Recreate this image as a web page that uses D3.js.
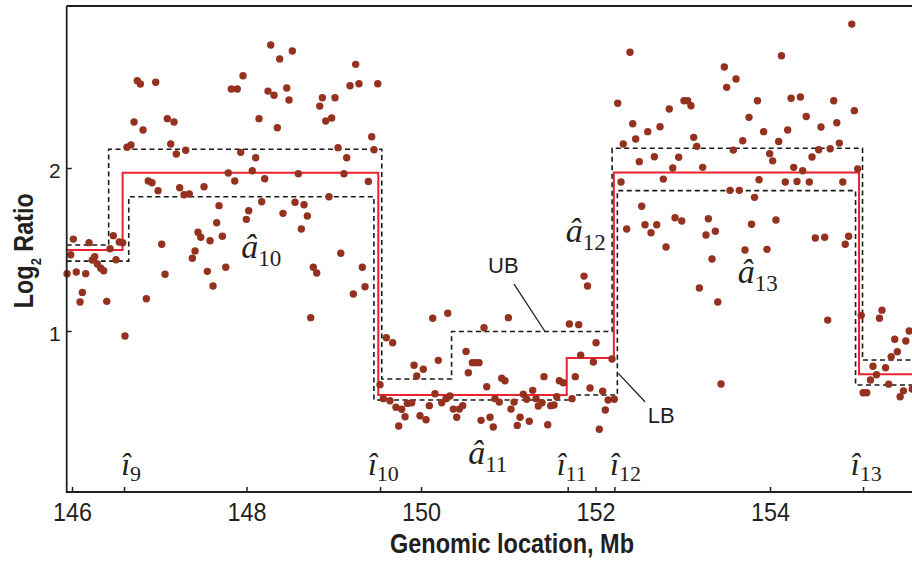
<!DOCTYPE html>
<html><head><meta charset="utf-8">
<script src="https://cdn.jsdelivr.net/npm/d3@7"></script>
<style>body{margin:0;background:#fff}svg{display:block}</style>
</head><body><svg id="c" width="912" height="563"></svg>
<script>
// ---- data: probe positions (Mb) and log2 ratios ----
const locationMb = [
146.015,145.985,145.943,146.049,146.157,146.118,146.092,146.195,146.260,146.233,
146.290,146.329,146.363,146.398,146.436,146.473,146.504,146.542,146.581,146.607,
146.630,146.676,146.711,146.814,146.748,146.783,146.959,146.874,146.917,146.986,
147.028,147.066,146.852,147.092,147.169,147.131,147.195,147.303,147.234,147.284,
147.344,147.513,147.444,147.475,147.410,147.379,147.582,147.551,147.616,147.685,
147.658,147.723,147.762,147.960,147.826,147.894,147.933,147.791,147.865,148.025,
147.998,
148.277,148.525,148.380,148.246,148.315,148.461,148.487,148.143,148.353,149.251,
149.186,149.289,149.504,148.869,149.014,148.839,148.908,148.976,149.435,149.049,
149.461,148.105,148.066,148.208,148.594,149.148,149.117,149.396,148.945,148.174,
148.418,148.556,148.659,148.697,148.628,149.080,148.765,148.804,149.327,149.358,
149.224,148.736,
150.134,150.306,151.001,151.700,151.807,150.722,149.602,149.675,152.006,150.516,
150.198,150.588,150.630,150.665,151.830,151.975,152.189,149.920,150.026,149.951,
150.542,150.925,150.962,151.409,151.585,151.631,151.768,149.530,150.753,151.937,
152.082,150.160,150.332,151.280,151.172,151.555,149.568,149.644,149.843,149.893,
150.237,150.286,150.848,150.897,151.066,151.211,151.318,151.387,151.731,152.144,
152.215,149.713,149.779,150.095,150.370,150.439,150.478,151.031,151.344,151.486,
151.524,152.112,149.817,149.988,150.057,150.409,150.688,150.791,151.135,151.241,
149.744,150.828,151.103,151.452,152.043,151.868,151.908,
152.395,152.254,153.476,153.610,153.503,153.014,153.056,153.094,152.845,153.856,
153.759,152.426,152.598,152.739,152.460,152.318,153.125,153.160,153.687,153.579,
152.674,152.953,152.502,152.885,153.228,152.777,152.292,153.874,153.541,153.648,
153.822,152.529,152.357,152.567,152.701,152.636,152.911,152.988,153.293,153.266,
153.373,153.788,152.808,153.713,153.335,153.190,153.401,153.438,
154.131,154.937,154.241,154.348,154.730,154.966,154.415,154.584,154.765,153.927,
154.202,154.099,154.794,153.996,154.030,154.481,154.558,154.689,154.271,154.374,
155.004,154.175,154.309,154.450,154.834,154.068,153.965,154.519,154.626,154.901,
154.862,154.661,
155.045,155.283,155.254,155.595,155.429,155.556,155.459,155.389,155.180,155.324,
155.220,155.151,155.360,155.067,155.108,155.529,155.491,155.630
];
const log2Ratio = [
1.564,1.468,1.352,1.362,1.352,1.237,1.178,1.542,1.456,1.436,
1.411,1.385,1.370,1.182,1.505,1.585,1.437,1.546,1.542,0.969,
2.127,2.141,2.282,2.233,2.536,2.515,2.526,1.920,1.910,1.861,
1.532,1.348,1.198,2.303,2.282,2.147,2.086,2.109,1.879,1.836,
1.841,1.885,1.606,1.575,1.491,1.446,1.554,1.366,1.276,1.769,
1.664,1.581,1.391,2.566,2.485,2.485,2.096,1.969,1.920,1.738,
1.685,
2.755,2.718,2.669,2.472,2.446,2.491,2.417,2.303,2.247,2.636,
2.505,2.517,2.517,2.431,2.431,2.380,2.288,2.307,2.192,2.125,
2.112,2.063,1.983,1.934,1.965,2.063,1.965,1.918,1.824,1.793,
1.722,1.790,1.775,1.706,1.626,1.477,1.391,1.356,1.391,1.272,
1.227,1.082,
1.078,1.109,1.082,1.043,1.039,1.020,0.959,0.928,0.928,0.875,
0.820,0.806,0.806,0.806,0.851,0.810,0.828,0.790,0.765,0.724,
0.744,0.710,0.695,0.720,0.695,0.683,0.720,0.671,0.658,0.650,
0.630,0.615,0.601,0.636,0.612,0.597,0.585,0.572,0.556,0.560,
0.560,0.585,0.585,0.564,0.564,0.581,0.585,0.560,0.585,0.577,
0.581,0.532,0.520,0.542,0.521,0.521,0.542,0.521,0.540,0.542,
0.546,0.515,0.474,0.480,0.456,0.471,0.452,0.471,0.471,0.446,
0.417,0.411,0.421,0.425,0.397,1.337,1.276,
2.710,2.397,2.620,2.546,2.495,2.413,2.413,2.382,2.362,2.413,
2.311,2.272,2.223,2.253,2.178,2.147,2.188,2.133,2.167,2.110,
2.069,2.066,2.039,2.000,2.004,1.932,1.914,1.928,1.863,1.863,
1.820,1.765,1.626,1.652,1.652,1.603,1.695,1.675,1.689,1.589,
1.612,1.655,1.515,1.497,1.442,1.264,1.178,0.675,
2.689,2.883,2.428,2.436,2.413,2.352,2.316,2.252,2.278,2.223,
2.233,2.163,2.153,2.088,2.044,2.068,2.112,2.118,2.004,1.983,
1.995,1.914,1.918,1.914,1.914,1.681,1.501,1.571,1.575,1.581,
1.532,1.067,
1.096,1.128,1.078,1.000,0.949,0.939,0.873,0.842,0.784,0.775,
0.732,0.699,0.674,0.621,0.621,0.633,0.597,0.644
];
// segment fit (red) and confidence bounds (dashed)
const fitBreaks = [146.58, 149.51, 151.67, 152.21, 155.02];
const fitLevels = [1.497, 1.971, 0.607, 0.835, 1.973, 0.734];
const ubBreaks  = [146.42, 149.55, 150.35, 152.19, 155.06];
const ubLevels  = [1.528, 2.115, 0.706, 0.997, 2.121, 0.822];
const lbBreaks  = [146.65, 149.46, 151.745, 152.25, 154.98];
const lbLevels  = [1.429, 1.824, 0.577, 0.607, 1.861, 0.669];
// axes
const xTickValues = [146, 148, 150, 152, 154];
const yTickValues = [1, 2];
const breakTicks = [146.596, 149.530, 151.681, 152.216, 155.066];
// annotations
const breakLabelIdx = ["9", "10", "11", "12", "13"];
const breakLabelLoc = [146.563, 149.392, 151.555, 152.166, 154.925];
const breakLabelVal = 0.117;
const segLabelIdx = ["10", "11", "12", "13"];
const segLabelLoc = [147.94, 150.54, 151.66, 153.63];
const segLabelVal = [1.448, 0.184, 1.546, 1.294];
const boundLabels = ["UB", "LB"];
const boundLabelLoc = [150.768, 152.598];
const boundLabelVal = [1.354, 0.434];
const boundLeaderLoc = [[151.066, 151.421], [152.261, 152.567]];
const boundLeaderVal = [[1.288, 0.997], [0.740, 0.566]];

// ---- drawing ----
const svg = d3.select("#c");
const L = 66.7, R = 912, T = 6, B = 492;
const x = d3.scaleLinear().domain([145.939, 155.627]).range([L, R]);
const y = d3.scaleLinear().domain([0.0123, 2.994]).range([B, T]);
const ink = "#231f20";
const sans = "'Liberation Sans', Arial, Helvetica, sans-serif";
const serif = "'Liberation Serif', 'Times New Roman', serif";

svg.append("rect").attr("width", 912).attr("height", 563).attr("fill", "#fff");
svg.append("clipPath").attr("id", "plot").append("rect")
  .attr("x", L).attr("y", T).attr("width", R - L).attr("height", B - T);

function stepPoints(br, lv) {
  const pts = [[x.domain()[0], lv[0]]];
  br.forEach((b, i) => pts.push([b, lv[i + 1]]));
  pts.push([x.domain()[1] + 0.2, lv[lv.length - 1]]);
  return pts;
}
const step = d3.line().x(d => x(d[0])).y(d => y(d[1])).curve(d3.curveStepAfter);
const lines = svg.append("g").attr("clip-path", "url(#plot)");
[[ubBreaks, ubLevels], [lbBreaks, lbLevels]].forEach(([b, l]) => {
  lines.append("path").attr("d", step(stepPoints(b, l))).attr("fill", "none")
    .attr("stroke", "#1a1a1a").attr("stroke-width", 1.6).attr("stroke-dasharray", "5,3.5");
});
lines.append("path").attr("d", step(stepPoints(fitBreaks, fitLevels))).attr("fill", "none")
  .attr("stroke", "#ec2230").attr("stroke-width", 2);

// points
svg.append("g").selectAll("circle").data(locationMb).join("circle")
  .attr("cx", (d) => x(d)).attr("cy", (d, i) => y(log2Ratio[i])).attr("r", 3.7)
  .attr("fill", "#95321f");

// x axis ticks + labels
const gx = svg.append("g").attr("transform", `translate(0,${B})`)
  .call(d3.axisBottom(x).tickValues(xTickValues.concat(breakTicks)).tickSizeInner(-5).tickSizeOuter(0)
    .tickFormat(d => xTickValues.includes(d) ? d3.format("d")(d) : ""));
gx.select(".domain").remove();
gx.selectAll("line").attr("stroke", ink).attr("stroke-width", 1.5);
gx.selectAll("text").attr("y", 29).attr("dy", null).attr("fill", ink)
  .attr("font-family", sans).attr("font-size", 26)
  .each(function(d){ if (xTickValues.includes(d)) d3.select(this).attr("textLength", 39).attr("lengthAdjust", "spacingAndGlyphs"); });

// y axis
const gy = svg.append("g").attr("transform", `translate(${L},0)`)
  .call(d3.axisLeft(y).tickValues(yTickValues).tickSizeInner(-5).tickSizeOuter(0).tickFormat(d3.format("d")));
gy.select(".domain").remove();
gy.selectAll("line").attr("stroke", ink).attr("stroke-width", 1.5);
gy.selectAll("text").attr("x", -6).attr("dy", null).attr("y", 9).attr("fill", ink)
  .attr("font-family", sans).attr("font-size", 21);

// frame
svg.append("path").attr("d", `M${L},${T}H${R}M${L},${T}V${B}H${R}`)
  .attr("fill", "none").attr("stroke", ink).attr("stroke-width", 1.8);

// axis titles
svg.append("text").attr("x", 512).attr("y", 553).attr("text-anchor", "middle")
  .attr("font-family", sans).attr("font-weight", "bold").attr("font-size", 28).attr("fill", ink)
  .attr("textLength", 244).attr("lengthAdjust", "spacingAndGlyphs")
  .text("Genomic location, Mb");
const yt = svg.append("g").attr("transform", "translate(33,250.7) rotate(-90) scale(0.866,1)")
  .append("text").attr("text-anchor", "middle").attr("font-family", sans)
  .attr("font-weight", "bold").attr("font-size", 27).attr("fill", ink);
yt.append("tspan").text("Log");
yt.append("tspan").attr("font-size", 15).attr("dy", 8).text("2");
yt.append("tspan").attr("dy", -8).text(" Ratio");

// breakpoint labels  î_k
breakLabelIdx.forEach((k, i) => {
  const t = svg.append("text").attr("x", x(breakLabelLoc[i])).attr("y", y(breakLabelVal))
    .attr("font-family", serif).attr("font-style", "italic").attr("font-size", 32).attr("fill", ink);
  t.append("tspan").text("\u00ee");
  t.append("tspan").attr("font-style", "normal").attr("font-size", 22).attr("dy", 6).text(k);
});
// segment labels  â_k
segLabelIdx.forEach((k, i) => {
  const t = svg.append("text").attr("x", x(segLabelLoc[i])).attr("y", y(segLabelVal[i]))
    .attr("font-family", serif).attr("font-style", "italic").attr("font-size", 34).attr("fill", ink);
  t.append("tspan").text("\u00e2");
  t.append("tspan").attr("font-style", "normal").attr("font-size", 23).attr("dy", 8).text(k);
});
// UB / LB labels with leaders
boundLabels.forEach((s, i) => {
  svg.append("text").attr("x", x(boundLabelLoc[i])).attr("y", y(boundLabelVal[i]))
    .attr("font-family", sans).attr("font-size", 22).attr("fill", ink).text(s);
  svg.append("line").attr("x1", x(boundLeaderLoc[i][0])).attr("y1", y(boundLeaderVal[i][0]))
    .attr("x2", x(boundLeaderLoc[i][1])).attr("y2", y(boundLeaderVal[i][1]))
    .attr("stroke", ink).attr("stroke-width", 1.3);
});
</script></body></html>
